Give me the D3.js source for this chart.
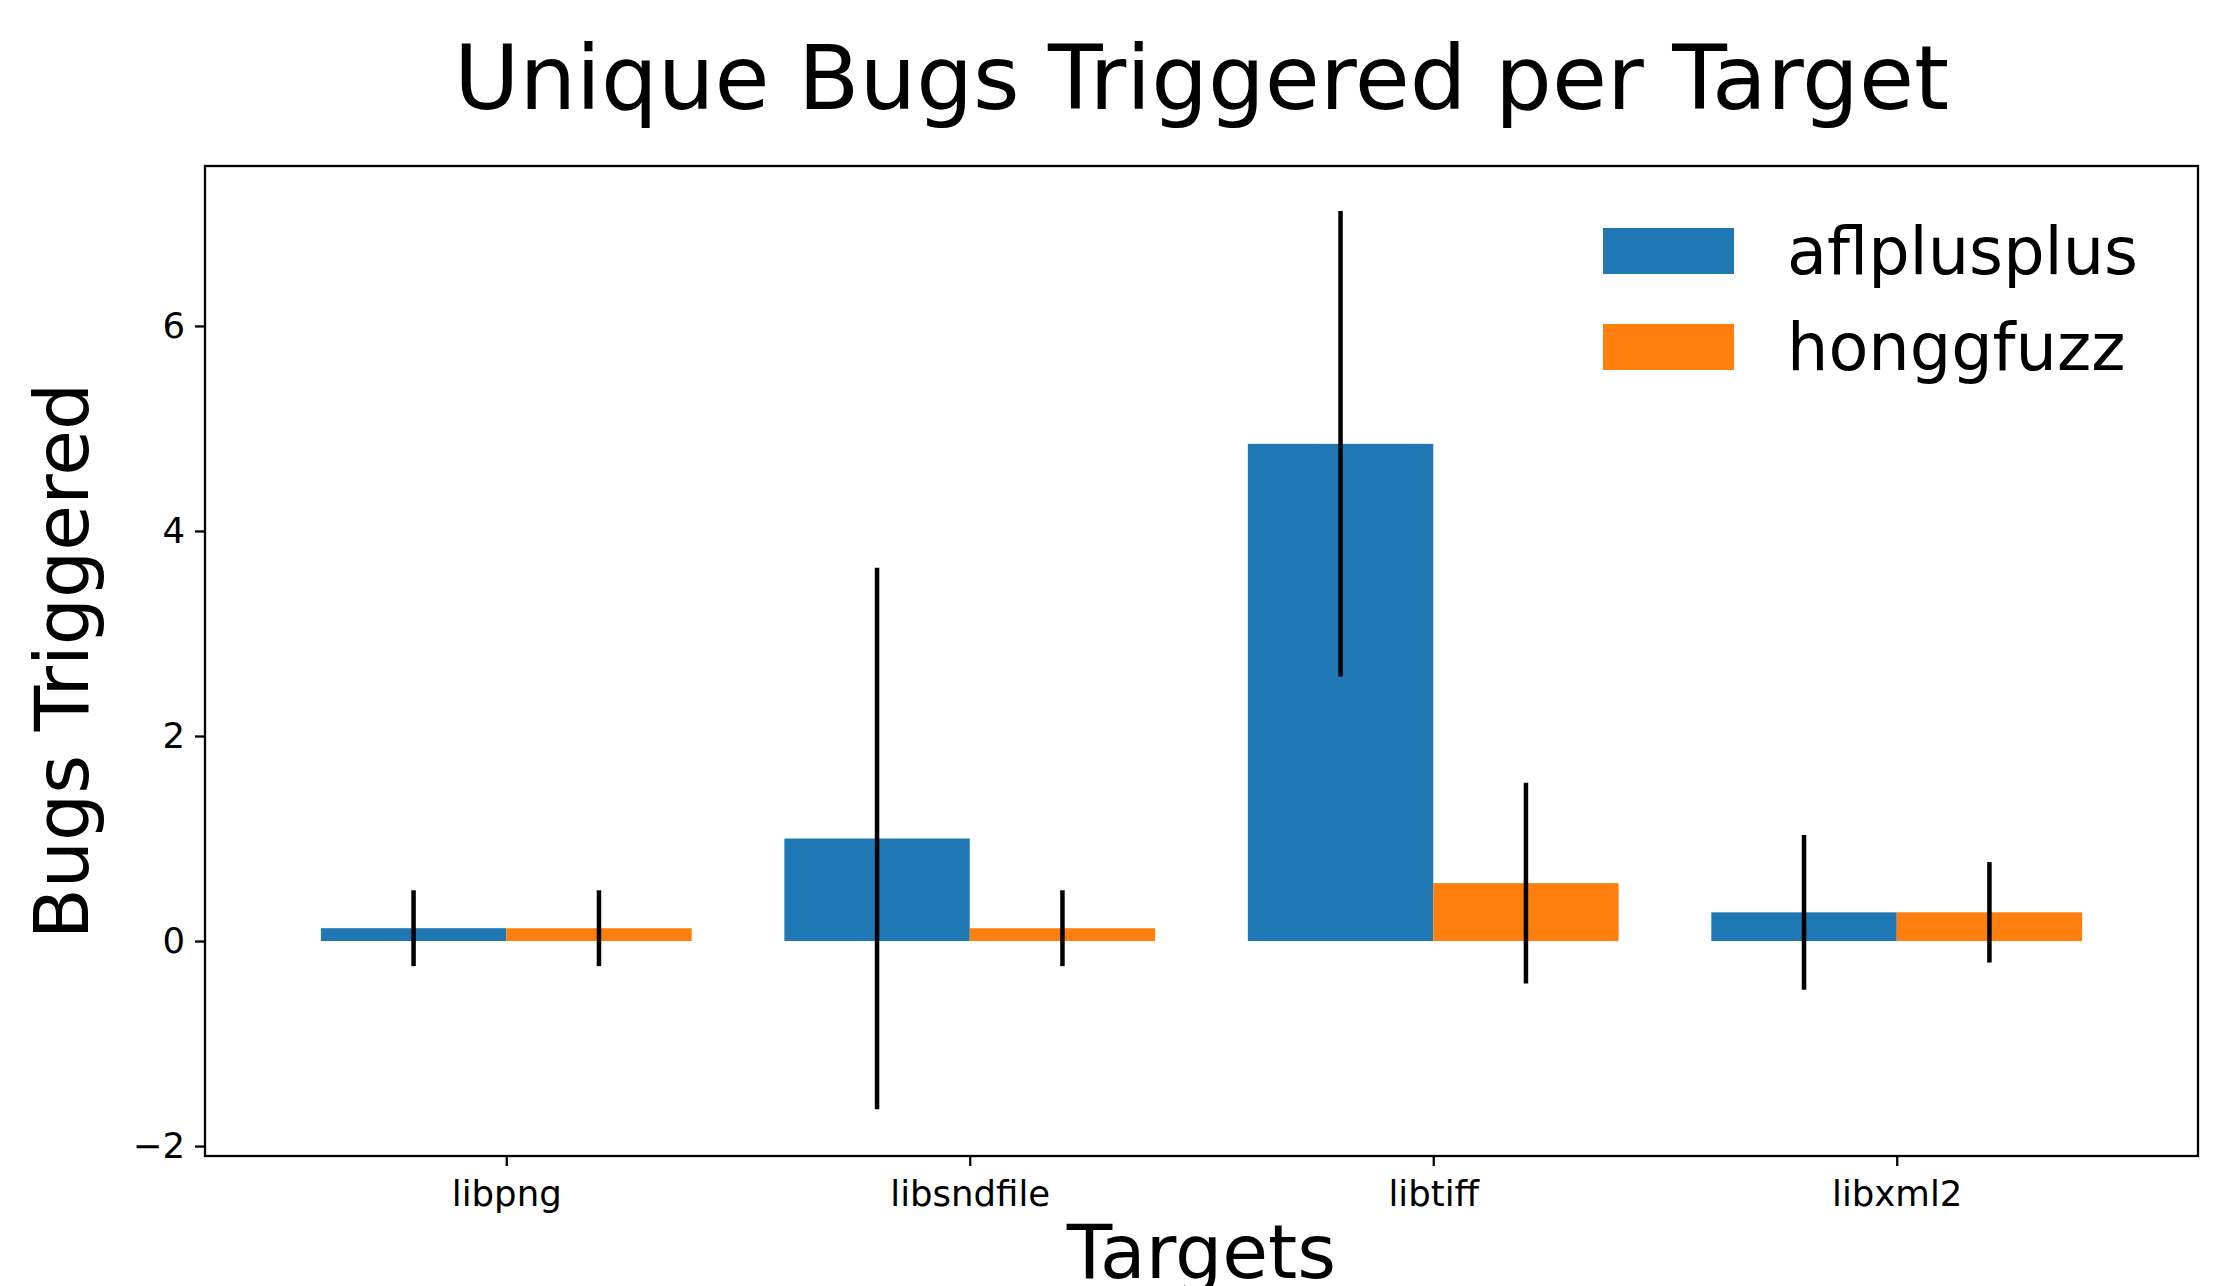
<!DOCTYPE html>
<html>
<head>
<meta charset="utf-8">
<script src="https://cdn.jsdelivr.net/npm/d3@7"></script>
<style>
  html, body { margin: 0; padding: 0; background: #fff; }
  svg { display: block; }
  text { font-family: "DejaVu Sans", sans-serif; fill: #000; }
</style>
</head>
<body>
<script>
// ---- data ----
const categories = ["libpng", "libsndfile", "libtiff", "libxml2"];
const seriesNames = ["aflplusplus", "honggfuzz"];
const aflplusplusMean = [0.125, 1.0, 4.85, 0.28];
const aflplusplusErr  = [0.37, 2.64, 2.27, 0.755];
const honggfuzzMean   = [0.125, 0.125, 0.565, 0.28];
const honggfuzzErr    = [0.37, 0.37, 0.98, 0.49];
const yTickValues = [-2, 0, 2, 4, 6];
const titleText = "Unique Bugs Triggered per Target";
const xLabelText = "Targets";
const yLabelText = "Bugs Triggered";

// ---- layout ----
const W = 2219, H = 1286;
const plot = { left: 205, right: 2198, top: 166, bottom: 1156 };
const colors = ["#1f77b4", "#ff7f0e"];
const barWidth = 0.4;

const svg = d3.select("body").append("svg").attr("width", W).attr("height", H);

const x = d3.scaleLinear().domain([-0.65, 3.65]).range([plot.left, plot.right]);
const y = d3.scaleLinear().domain([-2.097, 7.56]).range([plot.bottom, plot.top]);

const series = [
  { name: seriesNames[0], mean: aflplusplusMean, err: aflplusplusErr, offset: -barWidth / 2, color: colors[0] },
  { name: seriesNames[1], mean: honggfuzzMean, err: honggfuzzErr, offset: barWidth / 2, color: colors[1] }
];

// bars
series.forEach(s => {
  svg.append("g").selectAll("rect")
    .data(categories.map((c, i) => ({ i, v: s.mean[i] })))
    .join("rect")
    .attr("x", d => x(d.i + s.offset - barWidth / 2))
    .attr("width", d => x(d.i + s.offset + barWidth / 2) - x(d.i + s.offset - barWidth / 2))
    .attr("y", d => y(Math.max(0, d.v)))
    .attr("height", d => Math.abs(y(0) - y(d.v)))
    .attr("fill", s.color);
});

// error bars
series.forEach(s => {
  svg.append("g").selectAll("line")
    .data(categories.map((c, i) => ({ i, v: s.mean[i], e: s.err[i] })))
    .join("line")
    .attr("x1", d => x(d.i + s.offset))
    .attr("x2", d => x(d.i + s.offset))
    .attr("y1", d => y(d.v + d.e))
    .attr("y2", d => y(d.v - d.e))
    .attr("stroke", "#000")
    .attr("stroke-width", 4.5);
});

// axes
const tickLen = 10;
const yAxis = d3.axisLeft(y).tickValues(yTickValues)
  .tickFormat(d => d < 0 ? "\u2212" + Math.abs(d) : String(d))
  .tickSizeInner(tickLen).tickSizeOuter(0).tickPadding(10);
const gy = svg.append("g").attr("transform", `translate(${plot.left},0)`).call(yAxis);
gy.select(".domain").remove();
gy.selectAll(".tick line").attr("stroke", "#000").attr("stroke-width", 2.3);
gy.selectAll(".tick text").style("font-family", "DejaVu Sans").style("font-size", "35.5px").attr("fill", "#000");

const xAxis = d3.axisBottom(x).tickValues(d3.range(categories.length))
  .tickFormat(i => categories[i])
  .tickSizeInner(tickLen).tickSizeOuter(0).tickPadding(15);
const gx = svg.append("g").attr("transform", `translate(0,${plot.bottom})`).call(xAxis);
gx.select(".domain").remove();
gx.selectAll(".tick line").attr("stroke", "#000").attr("stroke-width", 2.3);
gx.selectAll(".tick text").style("font-family", "DejaVu Sans").style("font-size", "35.5px").attr("fill", "#000");

// frame
svg.append("rect")
  .attr("x", plot.left).attr("y", plot.top)
  .attr("width", plot.right - plot.left).attr("height", plot.bottom - plot.top)
  .attr("fill", "none").attr("stroke", "#000").attr("stroke-width", 2.3);

// title and labels
svg.append("text").attr("x", (plot.left + plot.right) / 2).attr("y", 109)
  .attr("text-anchor", "middle").style("font-size", "89.5px").text(titleText);
svg.append("text").attr("x", (plot.left + plot.right) / 2).attr("y", 1278)
  .attr("text-anchor", "middle").style("font-size", "74.5px").text(xLabelText);
svg.append("text")
  .attr("transform", `translate(88,${(plot.top + plot.bottom) / 2}) rotate(-90)`)
  .attr("text-anchor", "middle").style("font-size", "74.5px").text(yLabelText);

// legend
const legend = svg.append("g");
const legTop = [228, 324];
series.forEach((s, k) => {
  legend.append("rect").attr("x", 1603).attr("y", legTop[k])
    .attr("width", 131).attr("height", 46).attr("fill", s.color);
  legend.append("text").attr("x", 1787).attr("y", legTop[k] + 46)
    .style("font-size", "65.3px").text(s.name);
});
</script>
</body>
</html>
